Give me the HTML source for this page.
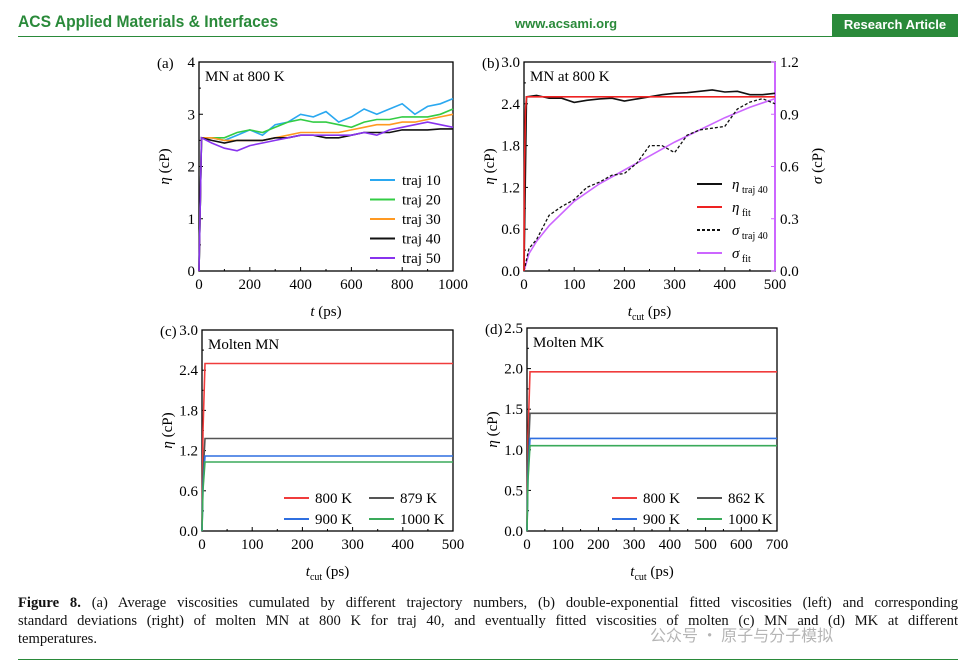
<!DOCTYPE html>
<html><head><meta charset="utf-8">
<style>
body{margin:0;background:#fff;width:973px;height:670px;overflow:hidden;position:relative;font-family:"Liberation Serif",serif}
.hdr{position:absolute;top:12px;font-family:"Liberation Sans",sans-serif;color:#2a8a3a;font-weight:bold}
.cap{position:absolute;left:18px;top:594px;width:940px;font-size:14.6px;line-height:18px;color:#111}
.cap .j{text-align:justify;text-align-last:justify;white-space:nowrap}
</style></head><body>
<div class="hdr" style="left:18px;font-size:17px;transform:scaleX(0.92);transform-origin:left">ACS Applied Materials &amp; Interfaces</div>
<div class="hdr" style="left:515px;top:16px;font-size:13px">www.acsami.org</div>
<div style="position:absolute;left:832px;top:14px;width:126px;height:22px;background:#2a8a3a;color:#fff;font:bold 13px 'Liberation Sans',sans-serif;line-height:22px;text-align:center">Research Article</div>
<div style="position:absolute;left:18px;top:36px;width:940px;height:1px;background:#2a8a3a"></div>
<svg id="fig" width="973" height="590" style="position:absolute;left:0;top:0" font-family="Liberation Serif, serif"></svg>
<div class="cap"><div class="j"><b>Figure 8.</b> (a) Average viscosities cumulated by different trajectory numbers, (b) double-exponential fitted viscosities (left) and corresponding</div><div class="j">standard deviations (right) of molten MN at 800 K for traj 40, and eventually fitted viscosities of molten (c) MN and (d) MK at different</div><div>temperatures.</div></div>
<div style="position:absolute;left:650px;top:622px;font:16px 'Noto Sans CJK SC',sans-serif;color:rgba(120,120,120,0.55)">公众号 · 原子与分子模拟</div>
<div style="position:absolute;left:18px;top:659px;width:940px;height:1px;background:#2a8a3a"></div>
<script>
// ---- data panel a ----
const aTimes=[0,10,50,100,150,200,250,300,350,400,450,500,550,600,650,700,750,800,850,900,950,1000];
const aTraj10=[0,2.55,2.55,2.5,2.6,2.7,2.6,2.8,2.85,3.0,2.95,3.05,2.85,2.95,3.1,3.0,3.1,3.2,3.0,3.15,3.2,3.3];
const aTraj20=[0,2.55,2.55,2.55,2.65,2.7,2.65,2.75,2.85,2.9,2.85,2.85,2.8,2.75,2.85,2.9,2.9,2.95,2.95,2.95,3.0,3.1];
const aTraj30=[0,2.55,2.55,2.5,2.5,2.5,2.5,2.55,2.6,2.65,2.65,2.65,2.65,2.7,2.75,2.8,2.8,2.85,2.85,2.9,2.95,3.0];
const aTraj40=[0,2.55,2.5,2.45,2.5,2.5,2.5,2.55,2.55,2.6,2.6,2.55,2.55,2.6,2.65,2.65,2.65,2.7,2.7,2.7,2.72,2.72];
const aTraj50=[0,2.55,2.45,2.35,2.3,2.4,2.45,2.5,2.55,2.6,2.6,2.6,2.6,2.6,2.65,2.6,2.7,2.75,2.8,2.85,2.8,2.75];
// ---- data panel b ----
const bEtaT=[0,5,25,50,75,100,125,150,175,200,225,250,275,300,325,350,375,400,425,450,475,500];
const bEta=[0,2.5,2.52,2.48,2.48,2.42,2.45,2.47,2.48,2.44,2.47,2.5,2.53,2.55,2.56,2.58,2.6,2.57,2.58,2.53,2.53,2.55];
const bFitT=[0,1,3,5,500];
const bFit=[0,1.5,2.3,2.5,2.5];
const bSigT=[0,10,25,50,75,100,125,150,175,200,225,250,275,300,325,350,375,400,425,450,475,500];
const bSig=[0,0.13,0.18,0.32,0.37,0.41,0.48,0.51,0.55,0.56,0.62,0.72,0.72,0.68,0.78,0.81,0.82,0.83,0.93,0.97,0.99,0.96];
const bSigFitT=[0,10,25,50,100,150,200,250,300,350,400,450,500];
const bSigFit=[0,0.1,0.17,0.26,0.4,0.5,0.58,0.66,0.74,0.81,0.88,0.94,0.99];
// ---- data panels c,d ----
const cLabels=["800 K","879 K","900 K","1000 K"];
const cValues=[2.5,1.38,1.12,1.03];
const dLabels=["800 K","862 K","900 K","1000 K"];
const dValues=[1.96,1.45,1.14,1.05];
const cdColors=["#f03c3c","#555555","#2f6fe0","#3aaa5a"];

const svg=document.getElementById('fig');
const NS="http://www.w3.org/2000/svg";
function el(tag,attrs,parent,text){const e=document.createElementNS(NS,tag);for(const k in attrs)e.setAttribute(k,attrs[k]);if(text!==undefined)e.textContent=text;(parent||svg).appendChild(e);return e;}

function panel(o){
  const g=el('g',{});
  
  
  const sx=v=>o.x0+(v-o.xmin)/(o.xmax-o.xmin)*(o.x1-o.x0);
  const sy=v=>o.y1-(v-o.ymin)/(o.ymax-o.ymin)*(o.y1-o.y0);
  const fr=el('rect',{x:o.x0,y:o.y0,width:o.x1-o.x0,height:o.y1-o.y0,fill:'none',stroke:'#000','stroke-width':1.3},g);
  
  
  o.xt.forEach((v,i)=>{const x=sx(v);
    el('line',{x1:x,x2:x,y1:o.y1,y2:o.y1-4,stroke:'#000'},g);
    if(i<o.xt.length-1){const xm=sx(v+(o.xt[1]-o.xt[0])/2);el('line',{x1:xm,x2:xm,y1:o.y1,y2:o.y1-2,stroke:'#000'},g);}
    const t=el('text',{x:x,y:o.y1+18,'font-size':15,'text-anchor':'middle'},g,o.xfmt(v));
    
    
  });
  o.yt.forEach((v,i)=>{const y=sy(v);
    el('line',{x1:o.x0,x2:o.x0+4,y1:y,y2:y,stroke:'#000'},g);
    if(i<o.yt.length-1){const ym=sy(v+(o.yt[1]-o.yt[0])/2);el('line',{x1:o.x0,x2:o.x0+2,y1:ym,y2:ym,stroke:'#000'},g);}
    const t=el('text',{x:o.x0-4,y:y+5,'font-size':15,'text-anchor':'end'},g,o.yfmt(v));
    
    
  });
  const pl=el('text',{x:o.x0-42,y:o.y0+6,'font-size':15},g,'('+o.id+')');
  
  
  const tt=el('text',{x:o.x0+6,y:o.y0+19,'font-size':15},g,o.title);
  
  
  const yl=el('text',{transform:`translate(${o.x0-30},${(o.y0+o.y1)/2}) rotate(-90)`,'font-size':15,'text-anchor':'middle'},g);
  
  
  el('tspan',{'font-style':'italic'},yl,'η');el('tspan',{},yl,' (cP)');
  const xl=el('text',{x:(o.x0+o.x1)/2,y:o.y1+45,'font-size':15,'text-anchor':'middle'},g);
  
  
  el('tspan',{'font-style':'italic'},xl,'t');
  if(o.cut) el('tspan',{'font-size':10,dy:4},xl,'cut');
  el('tspan',{dy:o.cut?-4:0},xl,' (ps)');
  return {g,sx,sy};
}
function line(p,xs,ys,color,name,extra,sy){
  const f=sy||p.sy;
  const d=xs.map((x,i)=>(i?'L':'M')+p.sx(x).toFixed(1)+','+f(ys[i]).toFixed(1)).join('');
  const e=el('path',Object.assign({d:d,fill:'none',stroke:color,'stroke-width':1.6},extra||{}),p.g);
  
  
}

// Panel a
const pa=panel({id:'a',x0:199,x1:453,y0:62,y1:271,xmin:0,xmax:1000,ymin:0,ymax:4,xt:[0,200,400,600,800,1000],yt:[0,1,2,3,4],xfmt:v=>v,yfmt:v=>v,title:'MN at 800 K'});
const aSeries=[[aTraj10,'#2aa8f0','traj 10'],[aTraj20,'#33cc44','traj 20'],[aTraj30,'#ff9922','traj 30'],[aTraj40,'#111','traj 40'],[aTraj50,'#8833ee','traj 50']];
aSeries.forEach((s,i)=>{line(pa,aTimes,s[0],s[1],'line-'+s[2].replace(' ','-'));
  const y=180+i*19.5;
  const l=el('line',{x1:370,x2:395,y1:y,y2:y,stroke:s[1],'stroke-width':2},pa.g);
  
  
  const t=el('text',{x:402,y:y+5,'font-size':15},pa.g,s[2]);
  
  
});

// Panel b
const pb=panel({id:'b',x0:524,x1:775,y0:62,y1:271,xmin:0,xmax:500,ymin:0,ymax:3,xt:[0,100,200,300,400,500],yt:[0,0.6,1.2,1.8,2.4,3.0],xfmt:v=>v,yfmt:v=>v.toFixed(1),title:'MN at 800 K',cut:true});
const syR=v=>271-v/1.2*209;
const ra=el('line',{x1:775,x2:775,y1:62,y2:271,stroke:'#cc66ff','stroke-width':2},pb.g);


[0,0.3,0.6,0.9,1.2].forEach(v=>{const y=syR(v);
  el('line',{x1:775,x2:771,y1:y,y2:y,stroke:'#cc66ff'},pb.g);
  const t=el('text',{x:780,y:y+5,'font-size':15},pb.g,v.toFixed(1));
  
  
});
const rl=el('text',{transform:'translate(822,166) rotate(-90)','font-size':15,'text-anchor':'middle'},pb.g);


el('tspan',{'font-style':'italic'},rl,'σ');el('tspan',{},rl,' (cP)');
line(pb,bSigFitT,bSigFit,'#cc66ff','line-sigma-fit',{}, syR);
line(pb,bSigT,bSig,'#111','line-sigma-traj40',{'stroke-dasharray':'3,2','stroke-width':1.3},syR);
line(pb,bEtaT,bEta,'#111','line-eta-traj40');
line(pb,bFitT,bFit,'#ee2222','line-eta-fit');
[['#111','η','traj 40',''],['#ee2222','η','fit',''],['#111','σ','traj 40','3,2'],['#cc66ff','σ','fit','']].forEach((s,i)=>{
  const y=184+i*23;
  const l=el('line',{x1:697,x2:722,y1:y,y2:y,stroke:s[0],'stroke-width':2,'stroke-dasharray':s[3]},pb.g);
  
  
  const t=el('text',{x:732,y:y+5,'font-size':15},pb.g);
  
  
  el('tspan',{'font-style':'italic'},t,s[1]);el('tspan',{'font-size':10,dy:4},t,' '+s[2]);
});

function cdPanel(id,x0,x1,y0,y1,xmax,ymax,xt,yt,title,labels,vals,legX){
  const p=panel({id:id,x0:x0,x1:x1,y0:y0,y1:y1,xmin:0,xmax:xmax,ymin:0,ymax:ymax,xt:xt,yt:yt,xfmt:v=>v,yfmt:v=>v.toFixed(1),title:title,cut:true});
  vals.forEach((v,i)=>{
    line(p,[0,xmax*0.004,xmax*0.012,xmax],[0,v*0.6,v,v],cdColors[i],'line-'+labels[i].replace(' ',''));
    const lx=legX+(i%2)*85, ly=y1-33+Math.floor(i/2)*21;
    const l=el('line',{x1:lx,x2:lx+25,y1:ly,y2:ly,stroke:cdColors[i],'stroke-width':2},p.g);
    
    
    const t=el('text',{x:lx+31,y:ly+5,'font-size':15,'text-anchor':'start'},p.g,labels[i]);
    
    
  });
}
cdPanel('c',202,453,330,531,500,3,[0,100,200,300,400,500],[0,0.6,1.2,1.8,2.4,3.0],'Molten MN',cLabels,cValues,284);
cdPanel('d',527,777,328,531,700,2.5,[0,100,200,300,400,500,600,700],[0,0.5,1.0,1.5,2.0,2.5],'Molten MK',dLabels,dValues,612);
</script>
</body></html>
